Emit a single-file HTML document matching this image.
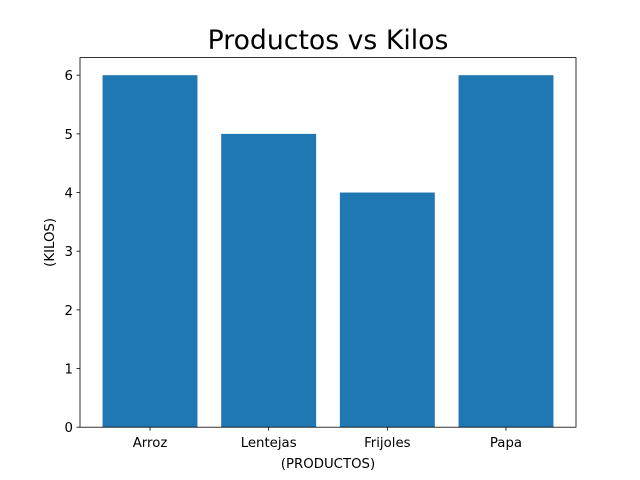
<!DOCTYPE html>
<html><head><meta charset="utf-8"><style>body{margin:0;background:#fff}svg{display:block;font-family:"DejaVu Sans","Liberation Sans",sans-serif}</style></head>
<body>
<svg id="chart" width="640" height="480" viewBox="0 0 640 480"></svg>
<script>
const categories = ["Arroz","Lentejas","Frijoles","Papa"];
const kilos = [6,5,4,6];
const yTicks = [0,1,2,3,4,5,6];
const NS="http://www.w3.org/2000/svg";
const svg=document.getElementById('chart');
const L=80,R=576,T=57.6,B=427.2;
const yMax=Math.max(...kilos)*1.05;
const xMin=-0.4-0.05*(categories.length-1+0.8), xMax=categories.length-1+0.4+0.05*(categories.length-1+0.8);
const xs=v=>L+(v-xMin)/(xMax-xMin)*(R-L);
const ys=v=>B-v/yMax*(B-T);
function el(tag,attrs,text){const e=document.createElementNS(NS,tag);for(const k in attrs)e.setAttribute(k,attrs[k]);if(text!==undefined)e.textContent=text;svg.appendChild(e);return e;}
kilos.forEach((v,i)=>{
  const b=el('rect',{x:xs(i-0.4),y:ys(v),width:xs(i+0.4)-xs(i-0.4),height:ys(0)-ys(v),fill:'#1f77b4'});
  
  
  const t=el('line',{x1:xs(i),x2:xs(i),y1:B,y2:B+3.5,stroke:'#000','stroke-width':0.8});
  
  
  const lb=el('text',{x:xs(i),y:B+20,'text-anchor':'middle','font-size':13.3,fill:'#000'},categories[i]);
  
  
});
yTicks.forEach(v=>{
  const t=el('line',{x1:L-3.5,x2:L,y1:ys(v),y2:ys(v),stroke:'#000','stroke-width':0.8});
  
  
  const lb=el('text',{x:L-7,y:ys(v)+5,'text-anchor':'end','font-size':13.3,fill:'#000'},String(v));
  
  
});
const frame=el('rect',{x:L,y:T,width:R-L,height:B-T,fill:'none',stroke:'#000','stroke-width':0.8});


const title=el('text',{x:(L+R)/2,y:49,'text-anchor':'middle','font-size':26.7,fill:'#000'},'Productos vs Kilos');


const xt=el('text',{x:(L+R)/2,y:468,'text-anchor':'middle','font-size':13.3,fill:'#000'},'(PRODUCTOS)');


const yt=el('text',{x:0,y:0,'text-anchor':'middle','font-size':13.3,fill:'#000',transform:'translate(54,'+((T+B)/2)+') rotate(-90)'},'(KILOS)');


</script>
</body></html>
